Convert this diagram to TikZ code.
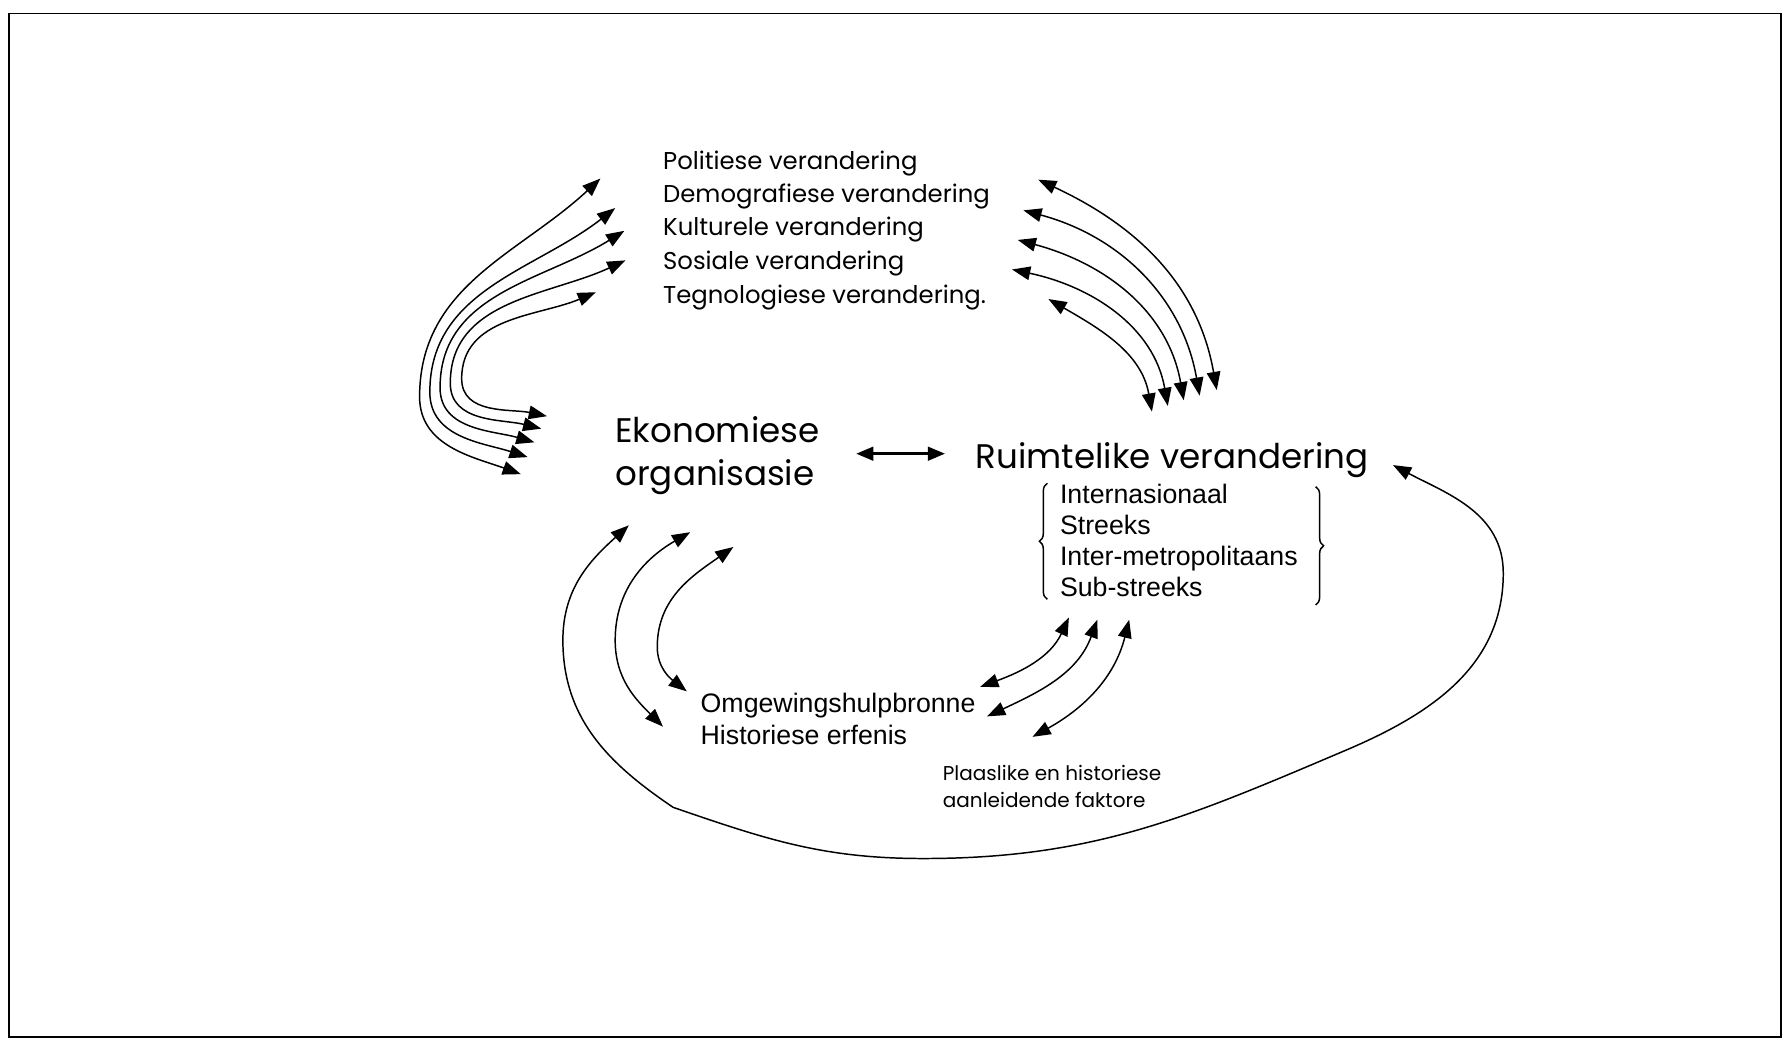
\documentclass[tikz,border=0pt]{standalone}
\usepackage{fontspec}
\newfontfamily\arialf{Liberation Sans}
\newfontfamily\gothicf{Poppins}
\usetikzlibrary{arrows.meta,decorations.pathreplacing}
\begin{document}
\begin{tikzpicture}[x=1pt,y=1pt,
  conn/.style={line width=1.3pt,{Triangle[length=16pt,width=12pt]}-{Triangle[length=16pt,width=12pt]}},
  bigconn/.style={line width=2.2pt,{Triangle[length=15pt,width=12pt]}-{Triangle[length=15pt,width=12pt]}},
  lab/.style={inner sep=0pt,anchor=base west},
  topf/.style={lab,font=\gothicf\fontsize{21.4}{25}\selectfont},
  mainf/.style={lab,font=\gothicf\fontsize{30}{36}\selectfont},
  smallf/.style={lab,font=\gothicf\fontsize{17.6}{21}\selectfont},
  arf/.style={lab,font=\arialf\fontsize{23.5}{28}\selectfont},
  bracef/.style={line width=1.3pt,decorate,decoration={brace,amplitude=7pt}}
]
\useasboundingbox (0,0) rectangle (1568,914);
\draw[line width=1.5pt] (8,2) rectangle (1566,902);

% top list
\node[topf] (pol) at (583,765) {Politiese verandering};
\node[topf] (dem) at (583,736) {Demografiese verandering};
\node[topf] (kul) at (583,707) {Kulturele verandering};
\node[topf] (sos) at (583,677) {Sosiale verandering};
\node[topf] (teg) at (583,647) {Tegnologiese verandering.};

% main labels
\node[mainf] (eko1) at (541,525) {Ekonomiese};
\node[mainf] (eko2) at (541,487) {organisasie};
\node[mainf] (ruim) at (858,502) {Ruimtelike verandering};

% brace items
\node[arf] (int) at (932,471) {Internasionaal};
\node[arf] (str) at (932,444) {Streeks};
\node[arf] (imet) at (932,417) {Inter-metropolitaans};
\node[arf] (sub) at (932,389) {Sub-streeks};
\draw[bracef] (921,387) -- (921,489);
\draw[bracef] (1157,486) -- (1157,382);

% bottom labels
\node[arf] (omg) at (616,287) {Omgewingshulpbronne};
\node[arf] (his) at (616,259) {Historiese erfenis};
\node[smallf] (pla1) at (829,228) {Plaaslike en historiese};
\node[smallf] (pla2) at (829,204) {aanleidende faktore};

% centre arrow
\coordinate (ma) at (753,515);
\coordinate (mb) at (831,515);
\draw[bigconn] (ma) -- (mb);

% left group
\coordinate (lb1) at (458,497); \coordinate (lm1) at (369,565); \coordinate (lt1) at (528,757);
\coordinate (lb2) at (464,512); \coordinate (lm2) at (378,569); \coordinate (lt2) at (541,731);
\coordinate (lb3) at (470,525); \coordinate (lm3) at (387,573); \coordinate (lt3) at (549,711);
\coordinate (lb4) at (476,537); \coordinate (lm4) at (396,577); \coordinate (lt4) at (550,685);
\coordinate (lb5) at (481,548); \coordinate (lm5) at (406,581); \coordinate (lt5) at (524,657);
\draw[conn] (lb1) to[out=160,in=-90] (lm1) to[out=90,in=223] (lt1);
\draw[conn] (lb2) to[out=162,in=-90] (lm2) to[out=90,in=218] (lt2);
\draw[conn] (lb3) to[out=164,in=-90] (lm3) to[out=90,in=212] (lt3);
\draw[conn] (lb4) to[out=166,in=-90] (lm4) to[out=90,in=205] (lt4);
\draw[conn] (lb5) to[out=168,in=-90] (lm5) to[out=90,in=203] (lt5);

% right group
\coordinate (rt1) at (913,756); \coordinate (rb1) at (1070,571);
\coordinate (rt2) at (900,729); \coordinate (rb2) at (1055,566);
\coordinate (rt3) at (895,703); \coordinate (rb3) at (1041,562);
\coordinate (rt4) at (890,677); \coordinate (rb4) at (1027,557);
\coordinate (rt5) at (922,651); \coordinate (rb5) at (1013,552);
\draw[conn] (rt1) to[out=-25,in=100] (rb1);
\draw[conn] (rt2) to[out=-15,in=100] (rb2);
\draw[conn] (rt3) to[out=-15,in=100] (rb3);
\draw[conn] (rt4) to[out=-12,in=100] (rb4);
\draw[conn] (rt5) to[out=-30,in=100] (rb5);

% big loop
\coordinate (ba) at (553,452);
\coordinate (bl) at (495,351);
\coordinate (bk) at (592,204);
\coordinate (bb) at (812,159);
\coordinate (br1) at (1183,254);
\coordinate (brm) at (1322,410);
\coordinate (bz) at (1225,505);
\draw[conn] (ba) to[out=222,in=90] (bl) to[out=-90,in=146] (bk) to[out=-19,in=180] (bb)
  to[out=0,in=203] (br1) to[out=23,in=-90] (brm) to[out=90,in=-28] (bz);

% bottom-left small curves
\coordinate (m2t) at (607,446); \coordinate (m2l) at (541,351); \coordinate (m2b) at (583,275);
\coordinate (m3t) at (645,433); \coordinate (m3l) at (578,345); \coordinate (m3b) at (604,306);
\draw[conn] (m2t) to[out=210,in=90] (m2l) to[out=-90,in=135] (m2b);
\draw[conn] (m3t) to[out=215,in=90] (m3l) to[out=-90,in=142] (m3b);

% bottom-right curves
\coordinate (ra1) at (862,310); \coordinate (ra2) at (940,371);
\coordinate (rb1x) at (868,284); \coordinate (rb2x) at (965,369);
\coordinate (rc1) at (908,266); \coordinate (rc2) at (993,369);
\draw[conn] (ra1) to[out=20,in=245] (ra2);
\draw[conn] (rb1x) to[out=25,in=250] (rb2x);
\draw[conn] (rc1) to[out=29,in=256] (rc2);
\end{tikzpicture}
\end{document}
